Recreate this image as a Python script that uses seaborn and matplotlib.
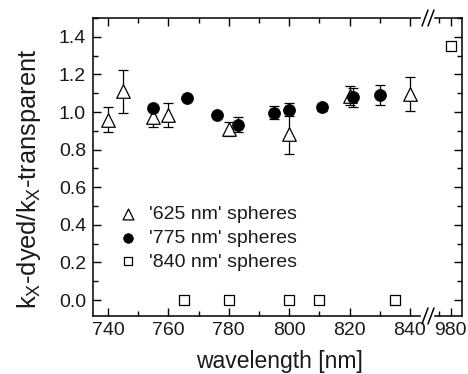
import numpy as np
import pandas as pd
import matplotlib
matplotlib.use("Agg")
import matplotlib.pyplot as plt
from matplotlib.lines import Line2D
from matplotlib.ticker import MultipleLocator, FixedLocator
import seaborn as sns

# ---- data ----
wl_625 = [740, 745, 755, 760, 780, 800, 820, 840]
k_625 = [0.96, 1.11, 0.975, 0.985, 0.91, 0.885, 1.087, 1.096]
err_625 = [0.065, 0.115, 0.055, 0.065, 0.035, 0.11, 0.05, 0.09]

wl_775 = [755, 766, 776, 783, 795, 800, 811, 821, 830]
k_775 = [1.022, 1.075, 0.986, 0.931, 0.997, 1.013, 1.025, 1.078, 1.092]
err_775 = [0.0, 0.0, 0.0, 0.04, 0.033, 0.035, 0.02, 0.05, 0.053]

wl_840 = [765, 780, 800, 810, 835, 980]
k_840 = [0.0, 0.0, 0.0, 0.0, 0.0, 1.35]

labels = ["'625 nm' spheres", "'775 nm' spheres", "'840 nm' spheres"]
xticks_main = [740, 760, 780, 800, 820, 840]
xticks_break = [980]
yticks = [0.0, 0.2, 0.4, 0.6, 0.8, 1.0, 1.2, 1.4]

sns.set_theme(style="ticks")
plt.rcParams['font.family'] = ['Liberation Sans', 'DejaVu Sans']
plt.rcParams['mathtext.fontset'] = 'custom'
plt.rcParams['mathtext.rm'] = 'Liberation Sans'

TXT = "#1a1a1a"
fig = plt.figure(figsize=(4.68, 3.74), dpi=100)
L, R, B, T = 93 / 468, 462 / 468, 1 - 316 / 374, 1 - 18 / 374
BRK = 428 / 468
ax1 = fig.add_axes([L, B, BRK - L, T - B])
ax2 = fig.add_axes([BRK, B, R - BRK, T - B], sharey=ax1)

df625 = pd.DataFrame({"wl": wl_625, "k": k_625, "err": err_625})
df775 = pd.DataFrame({"wl": wl_775, "k": k_775, "err": err_775})
df840 = pd.DataFrame({"wl": wl_840, "k": k_840})

eb_kw = dict(fmt="none", ecolor="black", elinewidth=0.9, capsize=3.5, capthick=0.9)

# error bars
ax1.errorbar(df625["wl"], df625["k"], yerr=df625["err"], zorder=1, **eb_kw)
m = df775["err"] > 0
ax1.errorbar(df775["wl"][m], df775["k"][m], yerr=df775["err"][m], zorder=3, **eb_kw)

# markers
sns.scatterplot(data=df625, x="wl", y="k", marker="^", s=95, color="white",
                edgecolor="black", linewidth=0.9, ax=ax1, zorder=2, label=labels[0])
sns.scatterplot(data=df775, x="wl", y="k", marker="o", s=75, color="black",
                edgecolor="black", linewidth=0.5, ax=ax1, zorder=4, label=labels[1])
main840 = df840[df840["wl"] < 900]
brk840 = df840[df840["wl"] > 900]
sns.scatterplot(data=main840, x="wl", y="k", marker="s", s=48, color="white",
                edgecolor="black", linewidth=0.9, ax=ax1, zorder=2, label=labels[2])
sns.scatterplot(data=brk840, x="wl", y="k", marker="s", s=48, color="white",
                edgecolor="black", linewidth=0.9, ax=ax2, zorder=2, legend=False)

ax1.set_xlim(735, 846)
ax2.set_xlim(970, 985)
ax1.set_ylim(-0.085, 1.5)

for ax in (ax1, ax2):
    ax.set_xlabel("")
    ax.set_ylabel("")
    ax.tick_params(which="both", direction="in", top=True, right=True,
                   color="black", width=1.0, labelsize=14, labelcolor=TXT)
    ax.tick_params(which="major", length=6)
    ax.tick_params(which="minor", length=3.5)
    for s in ax.spines.values():
        s.set_color("black")
        s.set_linewidth(1.1)

ax1.xaxis.set_major_locator(FixedLocator(xticks_main))
ax1.xaxis.set_minor_locator(MultipleLocator(10))
ax1.yaxis.set_major_locator(FixedLocator(yticks))
ax1.yaxis.set_minor_locator(MultipleLocator(0.1))
ax1.set_yticklabels([f"{v:.1f}" for v in yticks])
ax1.tick_params(which="both", right=False)
ax1.tick_params(axis="x", pad=4)
ax1.tick_params(axis="y", pad=5)
ax1.spines["right"].set_visible(False)

ax2.xaxis.set_major_locator(FixedLocator(xticks_break))
ax2.xaxis.set_minor_locator(FixedLocator([975]))
ax2.spines["left"].set_visible(False)
ax2.tick_params(which="both", left=False, labelleft=False)
ax2.tick_params(axis="x", pad=4)

ax1.set_xlabel("wavelength [nm]", fontsize=16.5, color=TXT)
ax1.xaxis.set_label_coords(0.558, -0.113)
ax1.set_ylabel(r"k$_\mathregular{X}$-dyed/k$_\mathregular{X}$-transparent",
               fontsize=18.3, color=TXT)
ax1.yaxis.set_label_coords(-0.148, 0.461)

leg = ax1.legend(loc="center left", bbox_to_anchor=(0.045, 0.262), frameon=False,
                 fontsize=14, handletextpad=0.5, labelspacing=0.32, borderaxespad=0,
                 handlelength=1.2, markerscale=0.8)
for t in leg.get_texts():
    t.set_color(TXT)

# break marks
for yb in (B, T):
    x0 = BRK
    fig.patches.append(plt.Rectangle((x0 - 7 / 468, yb - 2 / 374), 12 / 468, 4 / 374,
                                     transform=fig.transFigure, color="white", zorder=10))
    for dx in (-3, 3):
        fig.lines.append(Line2D([x0 + (dx - 3) / 468, x0 + (dx + 3) / 468],
                                [yb - 8 / 374, yb + 8 / 374],
                                transform=fig.transFigure, color="black", lw=1.1, zorder=11))

fig.savefig("out.png", dpi=100)
